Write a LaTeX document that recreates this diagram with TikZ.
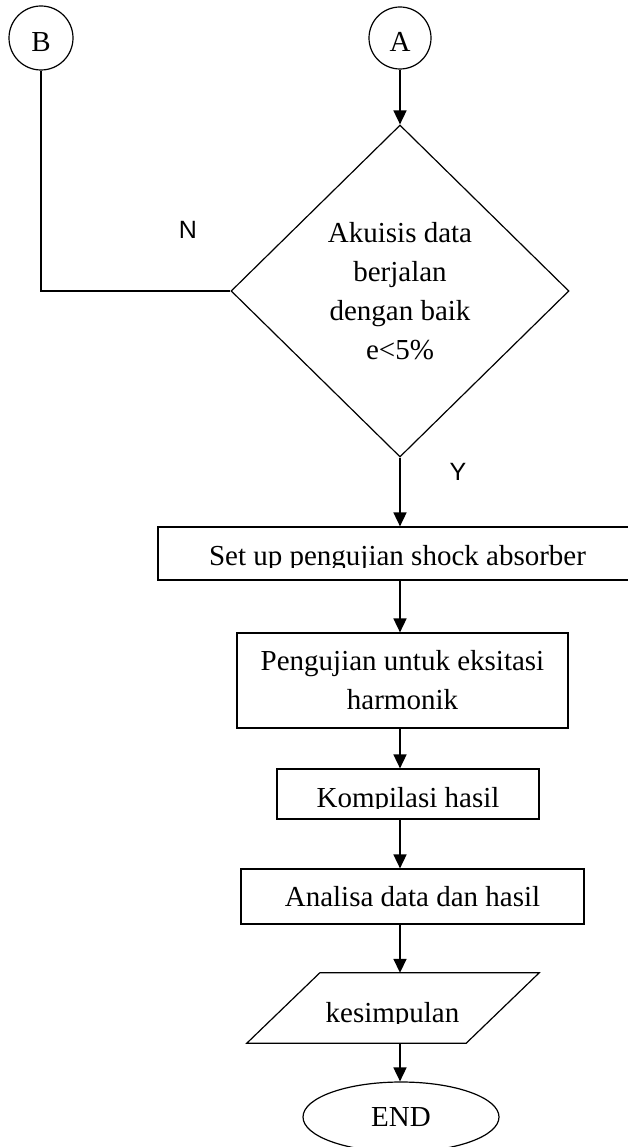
\documentclass[tikz,border=0pt]{standalone}
\usepackage{fontspec}
\setmainfont{Liberation Serif}
\newfontfamily\yesnofont{Liberation Sans}
\usetikzlibrary{shapes.geometric,arrows.meta}
\begin{document}
\begin{tikzpicture}[x=1pt,y=-1pt,
  shapeline/.style={draw, line width=1.2pt},
  txt/.style={font=\fontsize{29}{39}\selectfont},
  proc/.style={shapeline, rectangle, inner sep=0pt},
  flow/.style={line width=1.7pt, -{Triangle[length=14pt,width=13pt]}},
  link/.style={line width=1.5pt},
  yn/.style={font=\yesnofont\fontsize{25}{30}\selectfont},
  connector/.style={shapeline, circle, inner sep=0pt, txt, text height=27pt, text depth=0pt}]
\useasboundingbox (0,0) rectangle (628,1147);
\clip (0,0) rectangle (628,1147);

% off-page connectors
\node[connector, minimum size=64pt] (B) at (41,38) {B};
\node[connector, minimum size=62pt] (A) at (400,38) {A};

% decision
\node[shapeline, diamond, minimum width=338pt, minimum height=332pt, inner sep=0pt,
      txt, align=center] (dec) at (400,291) {Akuisis data\\berjalan\\dengan baik\\e<5\%};

% process steps
\node[proc, minimum width=502pt, minimum height=53pt] (s1) at (409,553.5) {};
\begin{scope}
  \clip (158,527) rectangle (628,567);
  \node[txt, anchor=base] (s1t) at (397.5,565) {Set up pengujian shock absorber};
\end{scope}

\node[proc, minimum width=331pt, minimum height=95pt, txt, align=center] (s2) at (402.5,680.5)
  {Pengujian untuk eksitasi\\harmonik};

\node[proc, minimum width=262pt, minimum height=50pt] (s3) at (408,794) {};
\begin{scope}
  \clip (277,769) rectangle (539,808);
  \node[txt, anchor=base] (s3t) at (408,807) {Kompilasi hasil};
\end{scope}

\node[proc, minimum width=343pt, minimum height=55pt, txt] (s4) at (412.5,896.5) {Analisa data dan hasil};

% output (parallelogram)
\node[rectangle, inner sep=0pt, minimum width=219pt, minimum height=70pt] (k) at (393,1008) {};
\draw[shapeline] ([xshift=-36.5pt]k.south west) -- ([xshift=36.5pt]k.north west)
  -- ([xshift=36.5pt]k.north east) -- ([xshift=-36.5pt]k.south east) -- cycle;
\begin{scope}
  \clip (247,973) rectangle (539,1023);
  \node[txt, anchor=base] (kt) at (392.5,1022) {kesimpulan};
\end{scope}

% terminator
\node[shapeline, ellipse, minimum width=196pt, minimum height=70pt, inner sep=0pt, txt] (end) at (401,1117) {END};

% connectors
\draw[flow] (A.south) -- (dec.north);
\draw[link] (B.south) |- (dec.west);
\draw[flow] (dec.south) -- (dec.south |- s1.north);
\draw[flow] (s1.south -| dec.south) -- (dec.south |- s2.north);
\draw[flow] (s2.south -| dec.south) -- (dec.south |- s3.north);
\draw[flow] (s3.south -| dec.south) -- (dec.south |- s4.north);
\draw[flow] (s4.south -| dec.south) -- (dec.south |- k.north);
\draw[flow] (k.south -| dec.south) -- (dec.south |- end.north);

% branch labels
\node[yn] (nlab) at (188,230) {N};
\node[yn] (ylab) at (458,472) {Y};
\end{tikzpicture}
\end{document}
